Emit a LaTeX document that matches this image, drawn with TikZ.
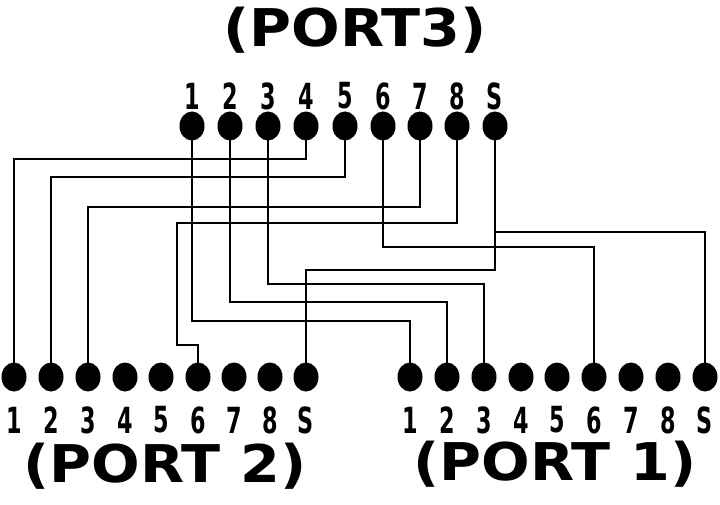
\documentclass[tikz,border=0pt]{standalone}
\usepackage{fontspec}
\setmainfont{DejaVu Sans}
\usetikzlibrary{shapes.geometric}
\begin{document}
\begin{tikzpicture}[x=1pt,y=-1pt,
 pin/.style={ellipse,fill=black,minimum width=25pt,minimum height=29pt,inner sep=0pt},
 wire/.style={line width=2.2pt},
 num/.style={font=\bfseries\fontsize{36}{38}\selectfont,xscale=0.62,inner sep=0pt},
 ttl/.style={font=\bfseries\fontsize{52}{54}\selectfont,xscale=1.1,inner sep=0pt}]
\useasboundingbox (0,0) rectangle (720,505);
\foreach \n/\x in {1/192,2/230,3/268,4/306,5/345,6/383,7/420,8/457,S/495}{
  \node[pin] (t\n) at (\x,126) {};
  \node[num] (tl\n) at (\x,96) {\n};}
\foreach \n/\x in {1/14,2/51,3/88,4/125,5/161,6/198,7/234,8/270,S/306}{
  \node[pin] (b\n) at (\x,377) {};
  \node[num] (bl\n) at (\x,420) {\n};}
\foreach \n/\x in {1/410,2/447,3/484,4/521,5/557,6/594,7/631,8/668,S/705}{
  \node[pin] (a\n) at (\x,377) {};
  \node[num] (al\n) at (\x,420) {\n};}
\node[ttl] (p3) at (355,30) {(PORT3)};
\node[ttl] (p2) at (165,466) {(PORT 2)};
\node[ttl] (p1) at (555,464) {(PORT 1)};
\draw[wire] (t4.center) |- (14,159) -- (b1.center);
\draw[wire] (t5.center) |- (51,177) -- (b2.center);
\draw[wire] (t7.center) |- (88,207) -- (b3.center);
\draw[wire] (t8.center) |- (177,223) -- (177,345) -- (198,345) -- (b6.center);
\draw[wire] (tS.center) -- (495,270) -| (bS.center);
\draw[wire] (495,232) -| (aS.center);
\draw[wire] (t6.center) |- (594,247) -- (a6.center);
\draw[wire] (t3.center) |- (484,284) -- (a3.center);
\draw[wire] (t2.center) |- (447,302) -- (a2.center);
\draw[wire] (t1.center) |- (410,321) -- (a1.center);
\end{tikzpicture}
\end{document}
